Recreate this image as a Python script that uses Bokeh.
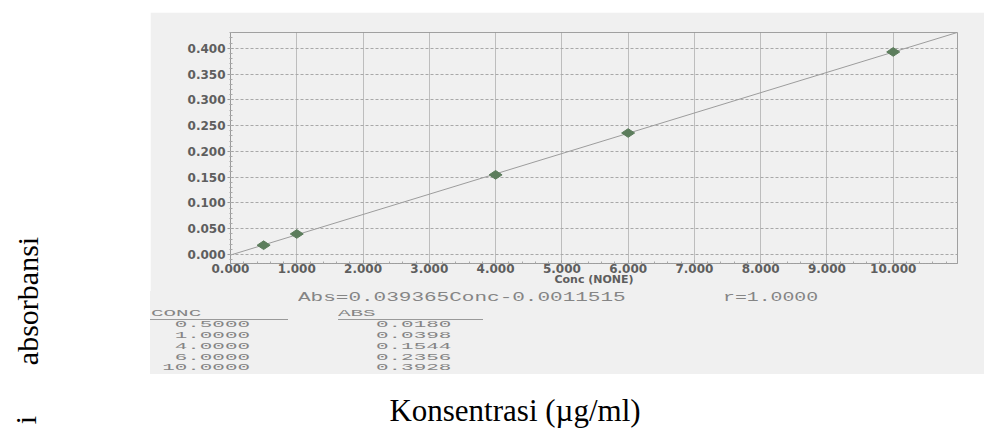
import numpy as np
from bokeh.plotting import figure
from bokeh.models import Range1d, FixedTicker, PrintfTickFormatter, Div, Spacer
from bokeh.layouts import column, row
from bokeh.embed import file_html
from bokeh.resources import INLINE

# ---------------- data ----------------
conc = [0.5, 1.0, 4.0, 6.0, 10.0]
absorb = [0.0180, 0.0398, 0.1544, 0.2356, 0.3928]
slope = 0.039365
intercept = -0.0011515
r_value = 1.0000
x_ticks = [0, 1, 2, 3, 4, 5, 6, 7, 8, 9, 10]
y_ticks = [0.0, 0.05, 0.10, 0.15, 0.20, 0.25, 0.30, 0.35, 0.40]
inner_x_label = "Conc (NONE)"
outer_x_label = "Konsentrasi (µg/ml)"
outer_y_label = "absorbansi"
cut_text = "i"
col_heads = ["CONC", "ABS"]

# ---------------- styles ----------------
BG = "#f0f0f0"
TICK_C = "#5e5e5e"
MONO_C = "#858585"
MONO = "Liberation Mono"
SANS = "DejaVu Sans"
SERIF = "Liberation Serif"
K = {MONO: 0.767, SERIF: 0.8375}   # baseline offset inside a line-height:1em box

W, H = 984, 431
GX, GT, GB = 150, 12, 374          # grey photo area: left, top, bottom
PB = 291                           # bottom of the plot figure

# ---------------- main plot ----------------
p = figure(width=W - GX, height=PB - GT, x_range=Range1d(0, 10.97), y_range=Range1d(-0.0175, 0.4305),
           output_backend="svg", toolbar_location=None,
           min_border_left=80, min_border_right=27, min_border_top=20, min_border_bottom=PB - 263)
p.border_fill_color = BG
p.background_fill_color = BG
p.outline_line_color = "#a0a0a0"

xt = FixedTicker(ticks=x_ticks, minor_ticks=[round(v, 1) for v in np.arange(0, 11.0, 0.2)])
yt = FixedTicker(ticks=y_ticks, minor_ticks=[round(v, 2) for v in np.arange(-0.01, 0.431, 0.01)])
p.xaxis.ticker = xt
p.yaxis.ticker = yt
p.xgrid.ticker = xt
p.ygrid.ticker = yt
p.xaxis.formatter = PrintfTickFormatter(format="%.3f")
p.yaxis.formatter = PrintfTickFormatter(format="%.3f")

for ax in (p.xaxis[0], p.yaxis[0]):
    ax.major_label_text_font = SANS
    ax.major_label_text_font_style = "bold"
    ax.major_label_text_font_size = "12px"
    ax.major_label_text_color = TICK_C
    ax.axis_line_color = "#9a9a9a"
    ax.major_tick_line_color = "#9a9a9a"
    ax.minor_tick_line_color = "#a8a8a8"

p.yaxis.major_tick_in = 3
p.yaxis.major_tick_out = 3
p.yaxis.minor_tick_in = 2
p.yaxis.minor_tick_out = 1
p.yaxis.major_label_standoff = 2

p.xaxis.major_tick_in = 3
p.xaxis.major_tick_out = 0
p.xaxis.minor_tick_in = 2
p.xaxis.minor_tick_out = 0
p.xaxis.axis_line_dash = "1 2"
p.xaxis.major_label_standoff = 0
p.xaxis.axis_label = inner_x_label
p.xaxis.axis_label_standoff = -3
p.xaxis.axis_label_text_font = SANS
p.xaxis.axis_label_text_font_style = "bold"
p.xaxis.axis_label_text_font_size = "11px"
p.xaxis.axis_label_text_color = TICK_C

p.xgrid.grid_line_color = "#8a8a8a"
p.xgrid.grid_line_dash = "1 1"
p.ygrid.grid_line_color = "#a8a8a8"
p.ygrid.grid_line_dash = "3 2"

fit_x = np.array([p.x_range.start, p.x_range.end])
fit_y = slope * fit_x + intercept
p.line(fit_x, fit_y, line_color="#9c9c9c", line_width=1)
p.scatter(conc, absorb, marker="diamond", size=13, angle=np.pi / 2,
          fill_color="#5c7d5c", line_color="#5c7d5c")


# ---------------- HTML text helpers ----------------
def span(left, baseline, text, font, size, color, align="left", width=None, sx=1.0):
    top = baseline - K[font] * size
    w = ""
    origin = {"left": "left", "center": "center", "right": "right"}[align]
    if width is not None:
        if align == "center":
            left = left - width / 2
        elif align == "right":
            left = left - width
        w = f"width:{width}px;text-align:{align};"
    tr = f"transform:scaleX({sx});transform-origin:{origin} center;" if sx != 1.0 else ""
    return (f'<span style="position:absolute;left:{left:.1f}px;top:{top:.1f}px;{w}{tr}'
            f"font-family:'{font}';font-size:{size}px;line-height:{size}px;color:{color};"
            f'white-space:pre;">{text}</span>')


def vspan(base_x, cy, text, font, size, color, box=220):
    # text rotated to read bottom-to-top; base_x = baseline x, cy = centre along text
    cx = base_x - (K[font] - 0.5) * size
    return (f'<span style="position:absolute;left:{cx - box / 2:.1f}px;top:{cy - size / 2:.1f}px;'
            f"width:{box}px;text-align:center;transform:rotate(-90deg);transform-origin:50% 50%;"
            f"font-family:'{font}';font-size:{size}px;line-height:{size}px;color:{color};"
            f'white-space:pre;">{text}</span>')


def hline(x0, x1, y, color):
    return (f'<div style="position:absolute;left:{x0}px;top:{y}px;width:{x1 - x0}px;height:0;'
            f'border-top:1px solid {color};"></div>')


def box(inner, w, h):
    return f'<div style="position:relative;width:{w}px;height:{h}px;overflow:hidden;">{inner}</div>'


# ---------------- grey text area under the plot (origin GX, PB) ----------------
tw, th = W - GX, GB - PB
ox, oy = GX, PB
FS, FSX = 12, 1.75     # formula font size / horizontal stretch
TS, TSX = 9.5, 2.2     # table font size / horizontal stretch
parts = [
    span(298 - ox, 301.5 - oy, f"Abs={slope:.6f}Conc-{abs(intercept):.7f}", MONO, FS, MONO_C, sx=FSX),
    span(723 - ox, 301.5 - oy, f"r={r_value:.4f}", MONO, FS, MONO_C, sx=1.65),
    span(151 - ox, 316 - oy, col_heads[0], MONO, TS, MONO_C, sx=TSX),
    span(338 - ox, 316 - oy, col_heads[1], MONO, TS, MONO_C, sx=TSX),
    hline(150 - ox, 288 - ox, 319 - oy, "#9a9a9a"),
    hline(338 - ox, 483 - ox, 319 - oy, "#9a9a9a"),
]
row_base = [327.5, 338.3, 349.1, 359.9, 370.7]
for c, a, yb in zip(conc, absorb, row_base):
    parts.append(span(250 - ox, yb - oy, f"{c:.4f}", MONO, TS, MONO_C, align="right", width=60, sx=TSX))
    parts.append(span(376 - ox, yb - oy, f"{a:.4f}", MONO, TS, MONO_C, align="left", width=60, sx=TSX))
tbl = Div(text=box("".join(parts), tw, th), width=tw, height=th,
          styles={"background-color": BG, "overflow": "hidden", "margin": "0", "padding": "0"})

# ---------------- white left strip ----------------
lw, lh = GX, GB - GT
left = Div(text=box(vspan(38, 300.5 - GT, outer_y_label, SERIF, 30, "black"), lw, lh),
           width=lw, height=lh, styles={"background-color": "white", "margin": "0", "padding": "0"})

# ---------------- white bottom strip ----------------
bw, bh = W, H - GB
bparts = [
    span(515, 421 - GB, outer_x_label, SERIF, 31, "black", align="center", width=500),
    vspan(36, 420 - GB, cut_text, SERIF, 30, "black", box=40),
]
bottom = Div(text=box("".join(bparts), bw, bh), width=bw, height=bh,
             styles={"background-color": "white", "margin": "0", "padding": "0"})

layout = column(Spacer(width=W, height=GT),
                row(left, column(p, tbl, spacing=0), spacing=0),
                bottom, spacing=0)

with open("out.html", "w", encoding="utf-8") as f:
    f.write(file_html(layout, INLINE))
